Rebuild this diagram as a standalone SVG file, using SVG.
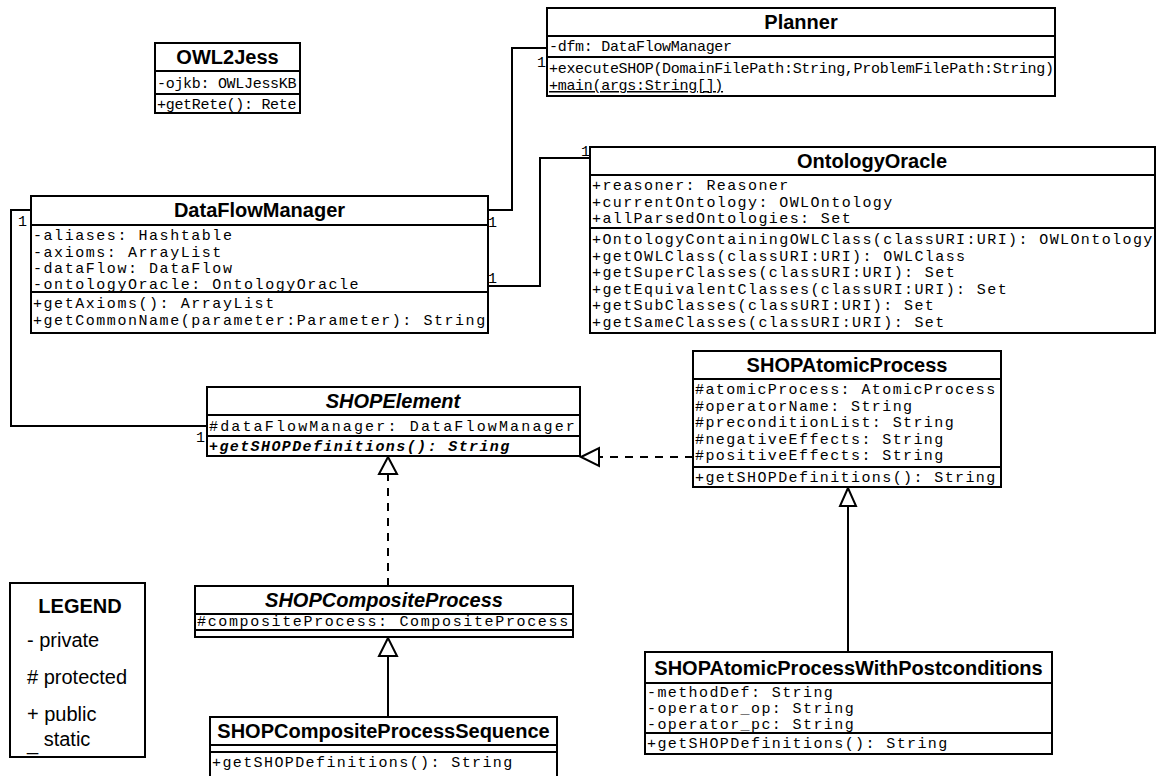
<svg xmlns="http://www.w3.org/2000/svg" width="1158" height="776" viewBox="0 0 1158 776">
<defs>
<style>
.box{fill:#fff;stroke:#000;stroke-width:2}
.sep{stroke:#000;stroke-width:2}
.title{font-family:"Liberation Sans",Arial,sans-serif;font-weight:bold;font-size:20px;text-anchor:middle}
.abs{font-style:italic}
.m{font-family:"Liberation Mono","Courier New",monospace;font-size:15px;letter-spacing:1.4px}
.narrow{letter-spacing:-0.3px}
.mb{font-weight:bold;font-style:italic}
.st{text-decoration:underline}
.mult{font-family:"Liberation Mono","Courier New",monospace;font-size:15px}
.edge{fill:none;stroke:#000;stroke-width:2}
.dash{stroke-dasharray:8 7}
.tri{fill:#fff;stroke:#000;stroke-width:2}
.lg{font-family:"Liberation Sans",Arial,sans-serif;font-size:20px}
</style>
</defs>
<rect width="1158" height="776" fill="#fff"/>

<!-- associations, realizations and generalizations -->
<g id="connectors">
  <polyline class="edge" points="488,210 512,210 512,48 547,48"/>
  <text class="mult" x="488" y="227">1</text>
  <text class="mult" x="537" y="67">1</text>

  <polyline class="edge" points="488,286 540,286 540,158 590,158"/>
  <text class="mult" x="488" y="283">1</text>
  <text class="mult" x="581" y="156">1</text>

  <polyline class="edge" points="31,210 11,210 11,426 207,426"/>
  <text class="mult" x="18" y="226">1</text>
  <text class="mult" x="196" y="442">1</text>

  <line class="edge dash" x1="693" y1="457" x2="599" y2="457"/>
  <polygon class="tri" points="581,457 599,448 599,466"/>

  <line class="edge dash" x1="388" y1="586" x2="388" y2="474"/>
  <polygon class="tri" points="388,457 379,474 397,474"/>

  <line class="edge" x1="388" y1="717" x2="388" y2="656"/>
  <polygon class="tri" points="388,638 379,656 397,656"/>

  <line class="edge" x1="848" y1="652" x2="848" y2="506"/>
  <polygon class="tri" points="848,488 840,506 856,506"/>
</g>

<g id="OWL2Jess">
  <rect class="box" x="155" y="43" width="145" height="70"/>
  <line class="sep" x1="155" y1="71" x2="300" y2="71"/>
  <line class="sep" x1="155" y1="94" x2="300" y2="94"/>
  <text class="title" x="227.5" y="64">OWL2Jess</text>
  <text class="m narrow" x="157" y="88">-ojkb: OWLJessKB</text>
  <text class="m narrow" x="157" y="109">+getRete(): Rete</text>
</g>

<g id="Planner">
  <rect class="box" x="547" y="8" width="508" height="88"/>
  <line class="sep" x1="547" y1="36" x2="1055" y2="36"/>
  <line class="sep" x1="547" y1="57" x2="1055" y2="57"/>
  <text class="title" x="801" y="29">Planner</text>
  <text class="m narrow" x="549" y="51">-dfm: DataFlowManager</text>
  <text class="m narrow" x="549" y="73">+executeSHOP(DomainFilePath:String,ProblemFilePath:String)</text>
  <text class="m narrow st" x="549" y="90">+main(args:String[])</text>
</g>

<g id="OntologyOracle">
  <rect class="box" x="590" y="147" width="565" height="186"/>
  <line class="sep" x1="590" y1="175" x2="1155" y2="175"/>
  <line class="sep" x1="590" y1="228" x2="1155" y2="228"/>
  <text class="title" x="872" y="168">OntologyOracle</text>
  <text class="m" x="592" y="190">+reasoner: Reasoner</text>
  <text class="m" x="592" y="206.5">+currentOntology: OWLOntology</text>
  <text class="m" x="592" y="223">+allParsedOntologies: Set</text>
  <text class="m" x="592" y="244">+OntologyContainingOWLClass(classURI:URI): OWLOntology</text>
  <text class="m" x="592" y="260.5">+getOWLClass(classURI:URI): OWLClass</text>
  <text class="m" x="592" y="277">+getSuperClasses(classURI:URI): Set</text>
  <text class="m" x="592" y="293.5">+getEquivalentClasses(classURI:URI): Set</text>
  <text class="m" x="592" y="310">+getSubClasses(classURI:URI): Set</text>
  <text class="m" x="592" y="326.5">+getSameClasses(classURI:URI): Set</text>
</g>

<g id="DataFlowManager">
  <rect class="box" x="31" y="196" width="457" height="137"/>
  <line class="sep" x1="31" y1="225" x2="488" y2="225"/>
  <line class="sep" x1="31" y1="292" x2="488" y2="292"/>
  <text class="title" x="259.5" y="217">DataFlowManager</text>
  <text class="m" x="33" y="240" style="letter-spacing:1.55px">-aliases: Hashtable</text>
  <text class="m" x="33" y="256.5" style="letter-spacing:1.55px">-axioms: ArrayList</text>
  <text class="m" x="33" y="273" style="letter-spacing:1.55px">-dataFlow: DataFlow</text>
  <text class="m" x="33" y="289" style="letter-spacing:1.55px">-ontologyOracle: OntologyOracle</text>
  <text class="m" x="33" y="308" style="letter-spacing:1.55px">+getAxioms(): ArrayList</text>
  <text class="m" x="33" y="325" style="letter-spacing:1.55px">+getCommonName(parameter:Parameter): String</text>
</g>

<g id="SHOPElement">
  <rect class="box" x="207" y="387" width="373" height="69"/>
  <line class="sep" x1="207" y1="415" x2="580" y2="415"/>
  <line class="sep" x1="207" y1="436" x2="580" y2="436"/>
  <text class="title abs" x="393" y="408">SHOPElement</text>
  <text class="m" x="209" y="431" style="letter-spacing:2.15px">#dataFlowManager: DataFlowManager</text>
  <text class="m mb" x="209" y="451">+getSHOPDefinitions(): String</text>
</g>

<g id="SHOPAtomicProcess">
  <rect class="box" x="693" y="351" width="308" height="136"/>
  <line class="sep" x1="693" y1="379" x2="1001" y2="379"/>
  <line class="sep" x1="693" y1="467" x2="1001" y2="467"/>
  <text class="title" x="847" y="372">SHOPAtomicProcess</text>
  <text class="m" x="695" y="394">#atomicProcess: AtomicProcess</text>
  <text class="m" x="695" y="410.5">#operatorName: String</text>
  <text class="m" x="695" y="427">#preconditionList: String</text>
  <text class="m" x="695" y="443.5">#negativeEffects: String</text>
  <text class="m" x="695" y="460">#positiveEffects: String</text>
  <text class="m" x="695" y="482">+getSHOPDefinitions(): String</text>
</g>

<g id="SHOPAtomicProcessWithPostconditions">
  <rect class="box" x="645" y="652" width="407" height="102"/>
  <line class="sep" x1="645" y1="683" x2="1052" y2="683"/>
  <line class="sep" x1="645" y1="733" x2="1052" y2="733"/>
  <text class="title" x="848.5" y="675">SHOPAtomicProcessWithPostconditions</text>
  <text class="m" x="647" y="697">-methodDef: String</text>
  <text class="m" x="647" y="713">-operator_op: String</text>
  <text class="m" x="647" y="729">-operator_pc: String</text>
  <text class="m" x="647" y="748">+getSHOPDefinitions(): String</text>
</g>

<g id="SHOPCompositeProcess">
  <rect class="box" x="195" y="586" width="378" height="51"/>
  <line class="sep" x1="195" y1="614" x2="573" y2="614"/>
  <line class="sep" x1="195" y1="630" x2="573" y2="630"/>
  <text class="title abs" x="384" y="607">SHOPCompositeProcess</text>
  <text class="m" x="197" y="626" style="letter-spacing:1.65px">#compositeProcess: CompositeProcess</text>
</g>

<g id="SHOPCompositeProcessSequence">
  <rect class="box" x="210" y="717" width="347" height="65"/>
  <line class="sep" x1="210" y1="745" x2="557" y2="745"/>
  <line class="sep" x1="210" y1="752" x2="557" y2="752"/>
  <text class="title" x="383.5" y="738">SHOPCompositeProcessSequence</text>
  <text class="m" x="212" y="767">+getSHOPDefinitions(): String</text>
</g>

<g id="legend">
  <rect class="box" x="10" y="583" width="135" height="174"/>
  <text class="title" x="80" y="613">LEGEND</text>
  <text class="lg" x="27" y="647">- private</text>
  <text class="lg" x="27" y="684"># protected</text>
  <text class="lg" x="27" y="721">+ public</text>
  <text class="lg" x="27" y="750">_ <tspan dy="-4">static</tspan></text>
</g>
</svg>
